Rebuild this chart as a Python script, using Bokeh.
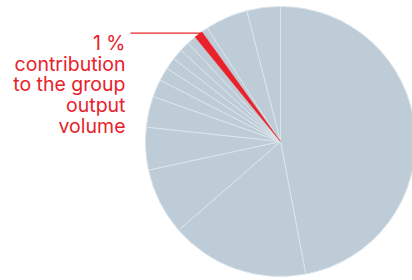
import math
from bokeh.plotting import figure
from bokeh.models import Range1d, ColumnDataSource
from bokeh.embed import file_html
from bokeh.resources import INLINE
from bokeh.core.properties import value

# ---- data ----
shares = [47.0, 16.6, 8.0, 5.1, 3.7, 2.1, 1.6, 1.4, 1.3, 1.2, 1.1, 1.0, 0.8, 5.1, 4.0]
highlight_index = 11
label_lines = ["1 %", "contribution", "to the group", "output", "volume"]

# ---- style / layout ----
W, H = 412, 280
CX, CY, R = 280, H - 141, 135
BASE = "#bdccd7"
SEP = "#dbe4ea"
RED = "#e8222b"

p = figure(width=W, height=H, x_range=Range1d(0, W), y_range=Range1d(0, H),
           output_backend="svg", toolbar_location=None, min_border=0)
p.axis.visible = False
p.grid.visible = False
p.outline_line_color = None
p.background_fill_color = "white"
p.border_fill_color = "white"

total = sum(shares)
starts, ends = [], []
cum = 0.0
for s in shares:
    f0 = cum / total
    f1 = (cum + s) / total
    starts.append(math.pi / 2 - 2 * math.pi * f1)
    ends.append(math.pi / 2 - 2 * math.pi * f0)
    cum += s

idx = [i for i in range(len(shares)) if i != highlight_index]
src = ColumnDataSource(dict(start=[starts[i] for i in idx], end=[ends[i] for i in idx]))
p.wedge(x=CX, y=CY, radius=R, start_angle="start", end_angle="end", source=src,
        fill_color=BASE, line_color=SEP, line_width=1)

hsrc = ColumnDataSource(dict(start=[starts[highlight_index]], end=[ends[highlight_index]]))
p.wedge(x=CX, y=CY, radius=R, start_angle="start", end_angle="end", source=hsrc,
        fill_color=RED, line_color=RED, line_width=0.5)

# leader line to highlighted slice
cum_h = sum(shares[:highlight_index])
fm = (cum_h + 0.75 * shares[highlight_index]) / total
ang = math.pi / 2 - 2 * math.pi * fm
ex = CX + R * math.cos(ang)
ey = CY + R * math.sin(ang)
p.line(x=[130, ex], y=[ey, ey], line_color=RED, line_width=1.2)

# label
TX = 125
TY0 = H - 42.7
LS = 20.6
p.text(x=[TX] * len(label_lines), y=[TY0 - i * LS for i in range(len(label_lines))],
       text=label_lines, text_align="right", text_baseline="alphabetic",
       text_font=value("Inter"), text_font_size="19.5px", text_color=RED)

open("out.html", "w").write(file_html(p, INLINE))
